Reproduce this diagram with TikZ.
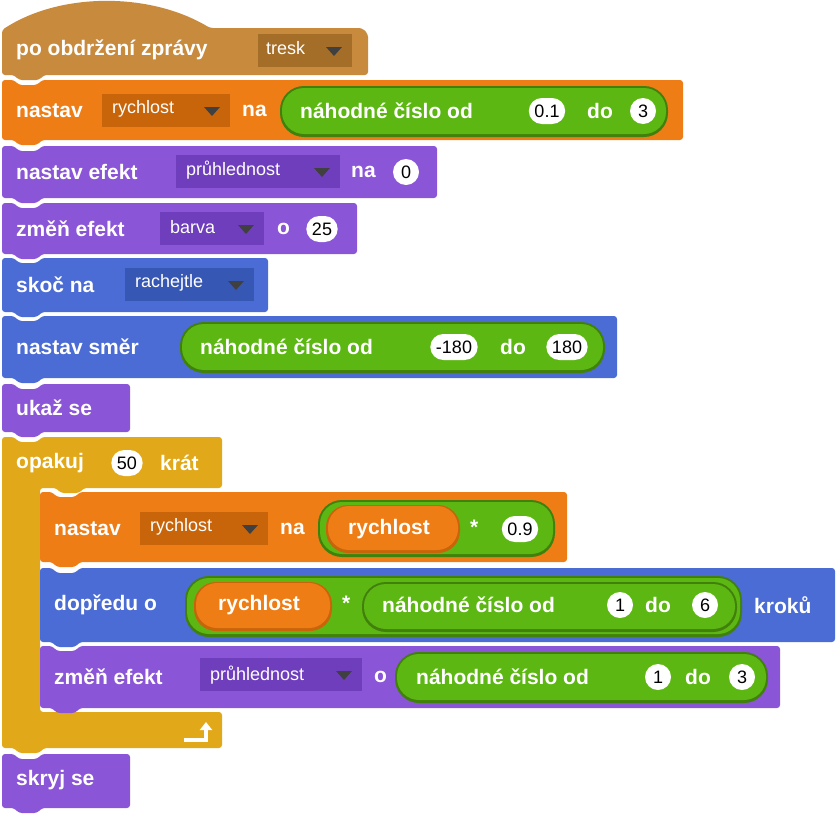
\documentclass[tikz,border=0pt]{standalone}
\usepackage{fontspec}
\setmainfont{Liberation Sans}
\usetikzlibrary{shapes.misc,arrows.meta}
\definecolor{evcol}{HTML}{C88A3C}
\definecolor{evdark}{HTML}{A56E28}
\definecolor{datcol}{HTML}{EE7D16}
\definecolor{datdark}{HTML}{C8650A}
\definecolor{opcol}{HTML}{5CB712}
\definecolor{opdark}{HTML}{3E8A08}
\definecolor{lookcol}{HTML}{8A55D7}
\definecolor{lookdark}{HTML}{6F3EBD}
\definecolor{motcol}{HTML}{4A6CD4}
\definecolor{motdark}{HTML}{3757B5}
\definecolor{ctrlcol}{HTML}{E1A91A}
% stack block with notch and tab
\newcommand{\stackblock}[5]{%
  \fill[#5,rounded corners=3] (#1,#2) -- (#1+12,#2) -- (#1+17,#2+5) -- (#1+35,#2+5) -- (#1+40,#2)
    -- (#3,#2) -- (#3,#4) -- (#1+40,#4) -- (#1+35,#4+5) -- (#1+17,#4+5) -- (#1+12,#4) -- (#1,#4) -- cycle;}
\newcommand{\reporter}[5]{%
  \fill[#5!70!black,rounded corners=24] (#1,#2) rectangle (#3,#4);
  \fill[#5,rounded corners=22] (#1+2,#2+2) rectangle (#3-2,#4-3);}
\newcommand{\ddown}[4]{\fill[#4] (#1,#2) rectangle (#3,#2+33);
  \fill[black!75] (#3-26,#2+13) -- (#3-10,#2+13) -- (#3-18,#2+22) -- cycle;}
\begin{document}
\begin{tikzpicture}[x=1pt,y=-1pt,
  lbl/.style={anchor=west,text=white,font=\fontsize{21}{24}\selectfont\bfseries,inner sep=0pt},
  num/.style={rounded rectangle,fill=white,text=black,font=\fontsize{18}{20}\selectfont,inner xsep=4pt,inner ysep=3pt,minimum height=26pt},
  menu/.style={anchor=west,text=white,font=\fontsize{18}{20}\selectfont,inner sep=0pt}]
\useasboundingbox (0,0) rectangle (837,814);
% hat block
\fill[evcol,rounded corners=3] (2,75) -- (2,30) .. controls (60,-8) and (150,-8) .. (210,28) -- (362,28) -- (368,34) -- (368,75) -- (44,75) -- (39,80) -- (19,80) -- (14,75) -- cycle;
\ddown{258}{34}{352}{evdark}
\node[lbl] (hat) at (16,50) {po obdržení zprávy};
\node[menu] (msg) at (266,48) {tresk};
% nastav rychlost
\stackblock{2}{80}{683}{140}{datcol}
\ddown{102}{94}{230}{datdark}
\reporter{280}{86}{668}{137}{opcol}
\node[lbl] (s1) at (16,111) {nastav};
\node[menu] (s1m) at (112,109) {rychlost};
\node[lbl] (s1b) at (242,111) {na};
\node[lbl] (r1) at (300,111) {náhodné číslo od};
\node[num] (r1a) at (547,111) {0.1};
\node[lbl] (r1b) at (587,111) {do};
\node[num] (r1c) at (643,111) {3};
% nastav efekt
\stackblock{2}{146}{437}{198}{lookcol}
\ddown{176}{155}{340}{lookdark}
\node[lbl] (s2) at (16,172) {nastav efekt};
\node[menu] (s2m) at (186,170) {průhlednost};
\node[lbl] (s2b) at (351,172) {na};
\node[num] (s2c) at (406,172) {0};
% zmen efekt barva
\stackblock{2}{203}{357}{254}{lookcol}
\ddown{160}{212}{264}{lookdark}
\node[lbl] (s3) at (16,229) {změň efekt};
\node[menu] (s3m) at (170,227) {barva};
\node[lbl] (s3b) at (277,229) {o};
\node[num] (s3c) at (322,229) {25};
% skoc na
\stackblock{2}{258}{268}{312}{motcol}
\ddown{125}{268}{254}{motdark}
\node[lbl] (s4) at (16,285) {skoč na};
\node[menu] (s4m) at (135,283) {rachejtle};
% nastav smer
\stackblock{2}{316}{617}{378}{motcol}
\reporter{180}{322}{605}{373}{opcol}
\node[lbl] (s5) at (16,347) {nastav směr};
\node[lbl] (r5) at (200,347) {náhodné číslo od};
\node[num] (r5a) at (454,347) {-180};
\node[lbl] (r5b) at (500,347) {do};
\node[num] (r5c) at (567,347) {180};
% ukaz se
\stackblock{2}{384}{130}{432}{lookcol}
\node[lbl] (s6) at (16,408) {ukaž se};
% opakuj
\fill[ctrlcol,rounded corners=3] (2,437) -- (14,437) -- (19,442) -- (37,442) -- (42,437) -- (222,437)
  -- (222,488) -- (84,488) -- (79,493) -- (61,493) -- (56,488) -- (40,488) -- (40,712) -- (222,712)
  -- (222,748) -- (44,748) -- (39,753) -- (19,753) -- (14,748) -- (2,748) -- cycle;
\node[lbl] (s7) at (16,463) {opakuj};
\node[num] (s7a) at (127,463) {50};
\node[lbl] (s7b) at (160,463) {krát};
\draw[white,line width=3.5pt,-{Triangle[length=8pt,width=12pt]}] (184,740) -- (206,740) -- (206,722);
% inner: nastav rychlost na rychlost * 0.9
\stackblock{40}{492}{567}{562}{datcol}
\ddown{140}{512}{268}{datdark}
\reporter{318}{500}{555}{557}{opcol}
\fill[datdark,rounded corners=22] (326,505) rectangle (460,553);
\fill[datcol,rounded corners=21] (328,506) rectangle (458,550);
\node[lbl] (s8) at (54,529) {nastav};
\node[menu] (s8m) at (150,527) {rychlost};
\node[lbl] (s8b) at (280,529) {na};
\node[lbl] (v8) at (348,529) {rychlost};
\node[lbl] (x8) at (470,527) {*};
\node[num] (n8) at (520,529) {0.9};
% inner: dopredu o
\stackblock{40}{568}{835}{642}{motcol}
\reporter{185}{576}{742}{637}{opcol}
\fill[datdark,rounded corners=22] (194,582) rectangle (332,631);
\fill[datcol,rounded corners=21] (196,583) rectangle (330,628);
\reporter{362}{582}{737}{632}{opcol}
\node[lbl] (s9) at (54,605) {dopředu o};
\node[lbl] (v9) at (218,605) {rychlost};
\node[lbl] (x9) at (342,603) {*};
\node[lbl] (r9) at (382,605) {náhodné číslo od};
\node[num] (r9a) at (620,605) {1};
\node[lbl] (r9b) at (645,605) {do};
\node[num] (r9c) at (705,605) {6};
\node[lbl] (s9b) at (754,605) {kroků};
% inner: zmen efekt pruhlednost
\stackblock{40}{646}{780}{708}{lookcol}
\ddown{200}{658}{362}{lookdark}
\reporter{395}{652}{768}{703}{opcol}
\node[lbl] (s10) at (54,677) {změň efekt};
\node[menu] (s10m) at (210,675) {průhlednost};
\node[lbl] (s10b) at (374,677) {o};
\node[lbl] (r10) at (416,677) {náhodné číslo od};
\node[num] (r10a) at (658,677) {1};
\node[lbl] (r10b) at (685,677) {do};
\node[num] (r10c) at (742,677) {3};
% skryj se
\stackblock{2}{754}{130}{808}{lookcol}
\node[lbl] (s11) at (16,780) {skryj se};
\end{tikzpicture}
\end{document}
